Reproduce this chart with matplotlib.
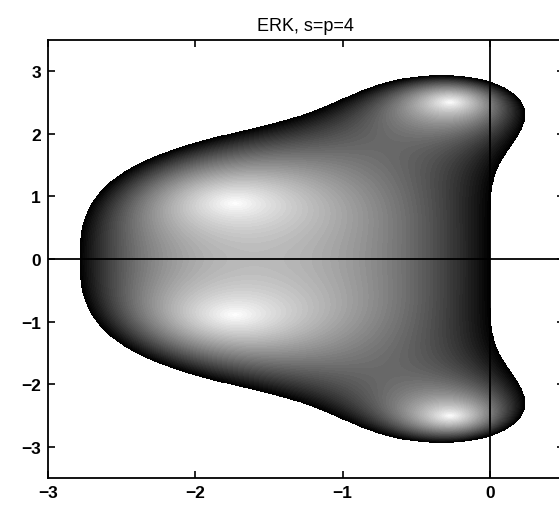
import numpy as np
import matplotlib
matplotlib.use("Agg")
import matplotlib.pyplot as plt

# RK4 stability polynomial coefficients R(z) = sum c_k z^k
coeffs = [1.0, 1.0, 1.0 / 2, 1.0 / 6, 1.0 / 24]
title = "ERK, s=p=4"
xticks = [-3, -2, -1, 0]
yticks = [-3, -2, -1, 0, 1, 2, 3]
xlim = (-3, 0.5)
ylim = (-3.5, 3.5)

plt.rcParams['font.family'] = ['Liberation Sans', 'DejaVu Sans']

fig = plt.figure(figsize=(5.59, 5.06), dpi=100)
ax = fig.add_axes([48 / 559, 27 / 506, 515.6 / 559, 438 / 506])

x = np.linspace(xlim[0], xlim[1], 900)
y = np.linspace(ylim[0], ylim[1], 900)
X, Y = np.meshgrid(x, y)
Z = X + 1j * Y
R = np.zeros_like(Z)
for k, c in enumerate(coeffs):
    R = R + c * Z ** k
A = np.abs(R)
A = np.where(A <= 1, A, np.nan)

levels = np.linspace(0, 1, 61)
ax.contourf(X, Y, A, levels=levels, cmap='gray_r', vmin=0, vmax=1)

ax.axhline(0, color='black', lw=1.3)
ax.axvline(0, color='black', lw=1.3)

ax.set_xlim(*xlim)
ax.set_ylim(*ylim)
ax.set_xticks(xticks)
ax.set_yticks(yticks)
ax.set_xticklabels([str(t).replace('-', '\u2212') for t in xticks])
ax.set_yticklabels([str(t).replace('-', '\u2212') for t in yticks])
ax.tick_params(direction='in', length=5, width=1.2, labelsize=12.5, top=True, right=True, pad=5)
for lab in ax.get_xticklabels() + ax.get_yticklabels():
    lab.set_fontweight('bold')
for s in ax.spines.values():
    s.set_linewidth(1.3)
ax.set_title(title, fontsize=13, pad=7)

fig.savefig("out.png", dpi=100)
